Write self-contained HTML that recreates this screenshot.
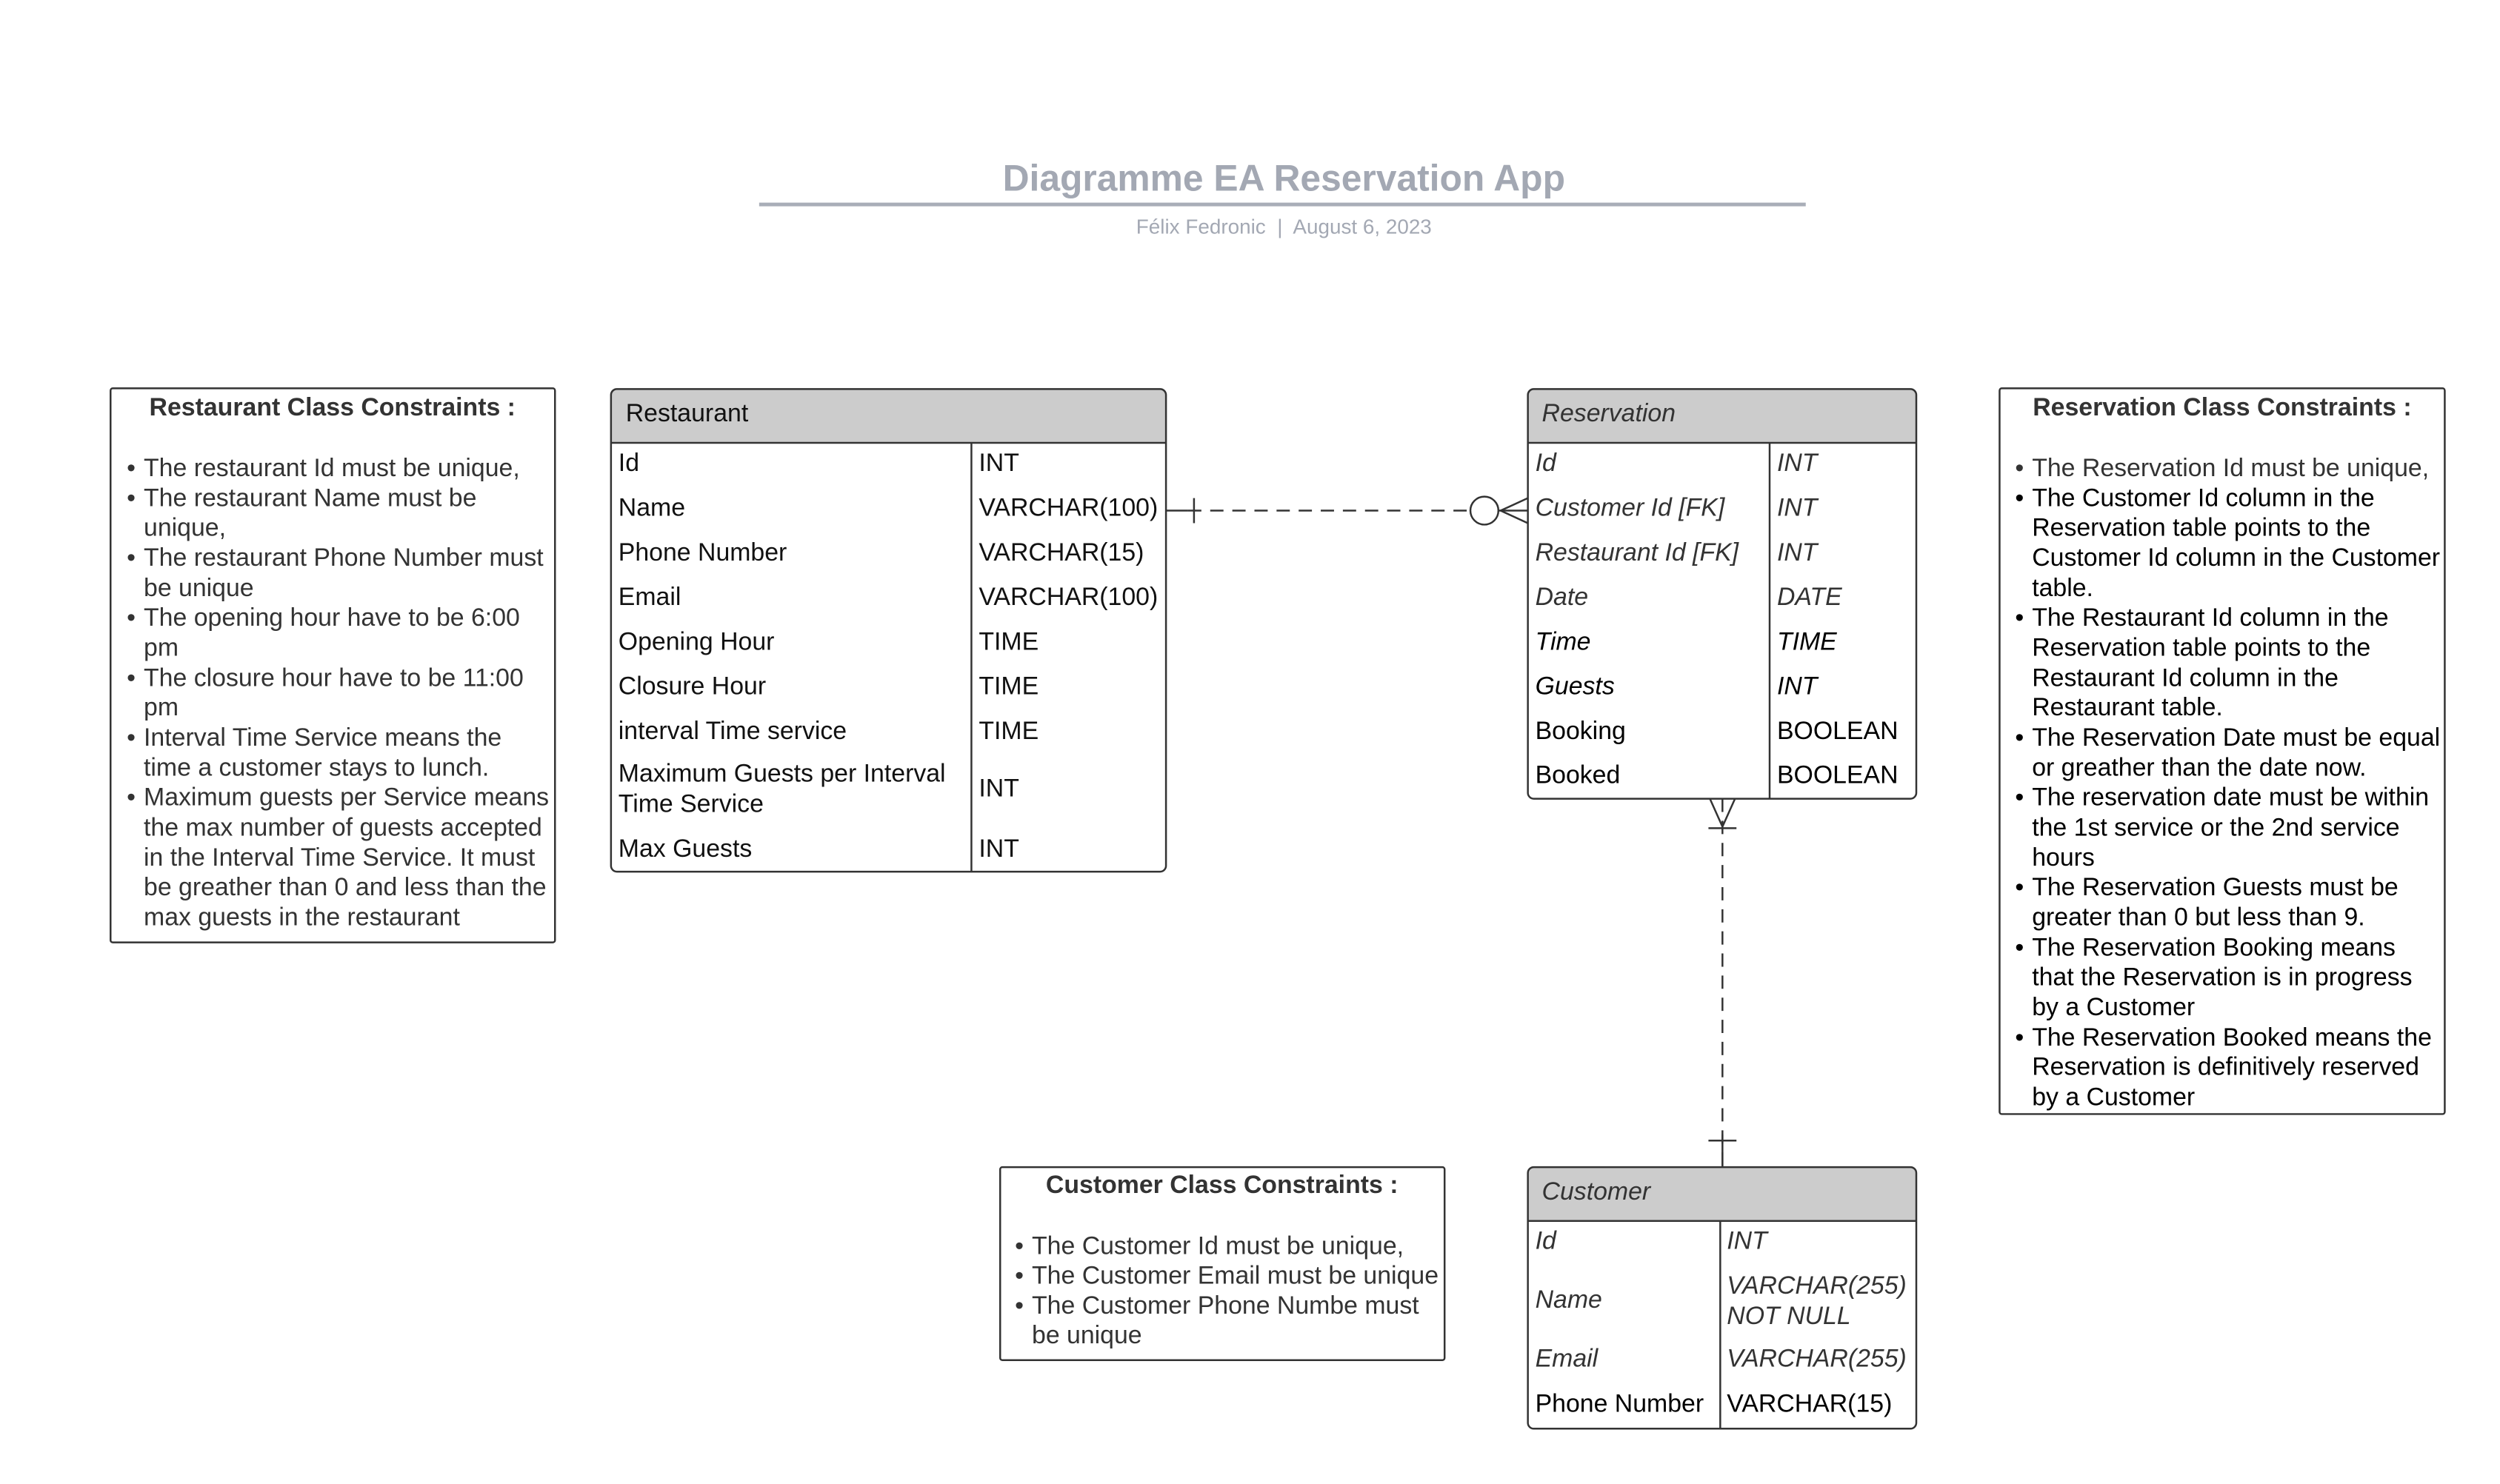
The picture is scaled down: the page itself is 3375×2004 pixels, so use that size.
<!DOCTYPE html>
<html><head><meta charset="utf-8"><style>
html,body{margin:0;padding:0;background:#fff;}
svg{display:block;}
text{font-family:"Liberation Sans",Arial,sans-serif;}
</style></head><body>
<svg width="3375" height="2004" viewBox="0 0 3375 2004" xmlns="http://www.w3.org/2000/svg">
<rect width="3375" height="2004" fill="#fff"/>
<g transform="scale(0.995)">
<!-- Title -->
<text x="1742" y="259" text-anchor="middle" font-size="50" font-weight="bold" fill="#a3a8b3">Diagramme EA Reservation App</text>
<rect x="1030" y="275" width="1420" height="5" fill="#a9aeb8"/>
<text x="1742" y="317" text-anchor="middle" font-size="28" fill="#a3a8b3" xml:space="preserve">Félix Fedronic  |  August 6, 2023</text>

<!-- Restaurant constraints -->
<rect x="150" y="527" width="603" height="752" fill="#fff" stroke="#333" stroke-width="2.5" rx="3"/>
<text x="451" y="564" text-anchor="middle" font-size="34" font-weight="bold" fill="#333">Restaurant Class Constraints :</text>
<g font-size="34" fill="#333">
<text x="172" y="646">•</text><text x="195" y="646">The restaurant Id must be unique,</text>
<text x="172" y="687">•</text><text x="195" y="687">The restaurant Name must be</text>
<text x="195" y="727">unique,</text>
<text x="172" y="768">•</text><text x="195" y="768">The restaurant Phone Number must</text>
<text x="195" y="809">be unique</text>
<text x="172" y="849">•</text><text x="195" y="849">The opening hour have to be 6:00</text>
<text x="195" y="890">pm</text>
<text x="172" y="931">•</text><text x="195" y="931">The closure hour have to be 11:00</text>
<text x="195" y="971">pm</text>
<text x="172" y="1012">•</text><text x="195" y="1012">Interval Time Service means the</text>
<text x="195" y="1053">time a customer stays to lunch.</text>
<text x="172" y="1093">•</text><text x="195" y="1093">Maximum guests per Service means</text>
<text x="195" y="1134">the max number of guests accepted</text>
<text x="195" y="1175">in the Interval Time Service. It must</text>
<text x="195" y="1215">be greather than 0 and less than the</text>
<text x="195" y="1256">max guests in the restaurant</text>
</g>

<!-- Restaurant table -->
<path d="M829,601 V536 a8,8 0 0 1 8,-8 H1574 a8,8 0 0 1 8,8 V601 Z" fill="#cccccc"/>
<rect x="829" y="528" width="753" height="655" rx="8" fill="none" stroke="#333" stroke-width="2.5"/>
<line x1="829" y1="601" x2="1582" y2="601" stroke="#333" stroke-width="2.5"/>
<line x1="1318" y1="601" x2="1318" y2="1183" stroke="#333" stroke-width="2.5"/>
<g font-size="34" fill="#111">
<text x="849" y="572">Restaurant</text>
<text x="839" y="639">Id</text><text x="1328" y="639">INT</text>
<text x="839" y="700">Name</text><text x="1328" y="700">VARCHAR(100)</text>
<text x="839" y="761">Phone Number</text><text x="1328" y="761">VARCHAR(15)</text>
<text x="839" y="821">Email</text><text x="1328" y="821">VARCHAR(100)</text>
<text x="839" y="882">Opening Hour</text><text x="1328" y="882">TIME</text>
<text x="839" y="942">Closure Hour</text><text x="1328" y="942">TIME</text>
<text x="839" y="1003">interval Time service</text><text x="1328" y="1003">TIME</text>
<text x="839" y="1061">Maximum Guests per Interval</text>
<text x="839" y="1102">Time Service</text><text x="1328" y="1081">INT</text>
<text x="839" y="1163">Max Guests</text><text x="1328" y="1163">INT</text>
</g>

<!-- Reservation table -->
<path d="M2073,601 V536 a8,8 0 0 1 8,-8 H2592 a8,8 0 0 1 8,8 V601 Z" fill="#cccccc"/>
<rect x="2073" y="528" width="527" height="556" rx="8" fill="none" stroke="#333" stroke-width="2.5"/>
<line x1="2073" y1="601" x2="2600" y2="601" stroke="#333" stroke-width="2.5"/>
<line x1="2401" y1="601" x2="2401" y2="1084" stroke="#333" stroke-width="2.5"/>
<g font-size="34">
<text x="2092" y="572" font-style="italic" fill="#333">Reservation</text>
<g font-style="italic" fill="#333">
<text x="2083" y="639">Id</text><text x="2411" y="639">INT</text>
<text x="2083" y="700">Customer Id [FK]</text><text x="2411" y="700">INT</text>
<text x="2083" y="761">Restaurant Id [FK]</text><text x="2411" y="761">INT</text>
<text x="2083" y="821">Date</text><text x="2411" y="821">DATE</text>
</g>
<g font-style="italic" fill="#000">
<text x="2083" y="882">Time</text><text x="2411" y="882">TIME</text>
<text x="2083" y="942">Guests</text><text x="2411" y="942">INT</text>
</g>
<g fill="#000">
<text x="2083" y="1003">Booking</text><text x="2411" y="1003">BOOLEAN</text>
<text x="2083" y="1063">Booked</text><text x="2411" y="1063">BOOLEAN</text>
</g>
</g>

<!-- Customer table -->
<path d="M2073,1657 V1592 a8,8 0 0 1 8,-8 H2592 a8,8 0 0 1 8,8 V1657 Z" fill="#cccccc"/>
<rect x="2073" y="1584" width="527" height="355" rx="8" fill="none" stroke="#333" stroke-width="2.5"/>
<line x1="2073" y1="1657" x2="2600" y2="1657" stroke="#333" stroke-width="2.5"/>
<line x1="2334" y1="1657" x2="2334" y2="1939" stroke="#333" stroke-width="2.5"/>
<g font-size="34">
<text x="2092" y="1628" font-style="italic" fill="#333">Customer</text>
<g font-style="italic" fill="#333">
<text x="2083" y="1695">Id</text><text x="2343" y="1695">INT</text>
<text x="2083" y="1775">Name</text><text x="2343" y="1756">VARCHAR(255)</text><text x="2343" y="1797">NOT NULL</text>
<text x="2083" y="1855">Email</text><text x="2343" y="1855">VARCHAR(255)</text>
</g>
<text x="2083" y="1916" fill="#000">Phone Number</text><text x="2343" y="1916" fill="#000">VARCHAR(15)</text>
</g>

<!-- Customer constraints -->
<rect x="1357" y="1584" width="603" height="262" fill="#fff" stroke="#333" stroke-width="2.5" rx="3"/>
<text x="1658" y="1619" text-anchor="middle" font-size="34" font-weight="bold" fill="#333">Customer Class Constraints :</text>
<g font-size="34" fill="#333">
<text x="1377" y="1702">•</text><text x="1400" y="1702">The Customer Id must be unique,</text>
<text x="1377" y="1742">•</text><text x="1400" y="1742">The Customer Email must be unique</text>
<text x="1377" y="1783">•</text><text x="1400" y="1783">The Customer Phone Numbe must</text>
<text x="1400" y="1823">be unique</text>
</g>

<!-- Reservation constraints -->
<rect x="2713" y="527" width="604" height="985" fill="#fff" stroke="#333" stroke-width="2.5" rx="3"/>
<text x="3015" y="564" text-anchor="middle" font-size="34" font-weight="bold" fill="#333">Reservation Class Constraints :</text>
<g font-size="34" fill="#000">
<text x="2734" y="646" fill="#333">•</text><text x="2757" y="646" fill="#333">The Reservation Id must be unique,</text>
<text x="2734" y="687">•</text><text x="2757" y="687">The Customer Id column in the</text>
<text x="2757" y="727">Reservation table points to the</text>
<text x="2757" y="768">Customer Id column in the Customer</text>
<text x="2757" y="809">table.</text>
<text x="2734" y="849">•</text><text x="2757" y="849">The Restaurant Id column in the</text>
<text x="2757" y="890">Reservation table points to the</text>
<text x="2757" y="931">Restaurant Id column in the</text>
<text x="2757" y="971">Restaurant table.</text>
<text x="2734" y="1012">•</text><text x="2757" y="1012">The Reservation Date must be equal</text>
<text x="2757" y="1053">or greather than the date now.</text>
<text x="2734" y="1093">•</text><text x="2757" y="1093">The reservation date must be within</text>
<text x="2757" y="1134">the 1st service or the 2nd service</text>
<text x="2757" y="1175">hours</text>
<text x="2734" y="1215">•</text><text x="2757" y="1215">The Reservation Guests must be</text>
<text x="2757" y="1256">greater than 0 but less than 9.</text>
<text x="2734" y="1297">•</text><text x="2757" y="1297">The Reservation Booking means</text>
<text x="2757" y="1337">that the Reservation is in progress</text>
<text x="2757" y="1378">by a Customer</text>
<text x="2734" y="1419">•</text><text x="2757" y="1419">The Reservation Booked means the</text>
<text x="2757" y="1459">Reservation is definitively reserved</text>
<text x="2757" y="1500">by a Customer</text>
</g>

<!-- Connector Restaurant - Reservation -->
<g stroke="#333" stroke-width="2.5" fill="none">
<line x1="1582" y1="693" x2="1612" y2="693"/>
<line x1="1612" y1="693" x2="1994" y2="693" stroke-dasharray="18,12"/>
<line x1="1620" y1="676" x2="1620" y2="710"/>
<circle cx="2014" cy="693" r="19" fill="#fff"/>
<line x1="2033" y1="693" x2="2073" y2="693"/>
<line x1="2036" y1="693" x2="2073" y2="676"/>
<line x1="2036" y1="693" x2="2073" y2="710"/>
<!-- Reservation - Customer -->
<line x1="2337" y1="1084" x2="2337" y2="1584" stroke-dasharray="18,12"/>
<line x1="2320" y1="1084" x2="2337" y2="1122"/>
<line x1="2354" y1="1084" x2="2337" y2="1122"/>
<line x1="2318" y1="1124" x2="2356" y2="1124"/>
<line x1="2318" y1="1548" x2="2356" y2="1548"/>
<line x1="2337" y1="1540" x2="2337" y2="1584"/>
</g>
</g>
</svg>
</body></html>
